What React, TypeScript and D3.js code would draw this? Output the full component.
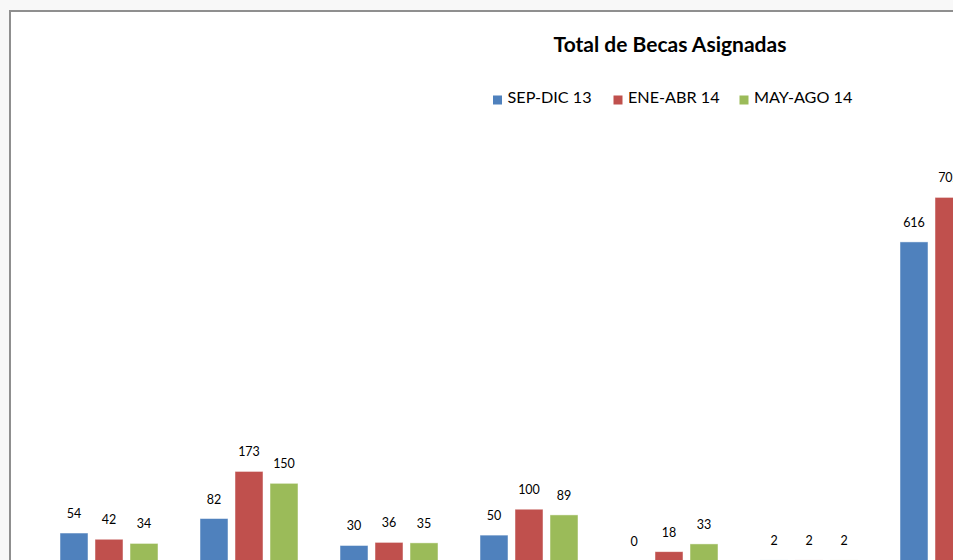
import React from "react";
import * as d3 from "d3";

const categories = ["G1", "G2", "G3", "G4", "G5", "G6", "G7"];
const seriesNames = ["SEP-DIC 13", "ENE-ABR 14", "MAY-AGO 14"];
const sepDic13 = [54, 82, 30, 50, 0, 2, 616];
const eneAbr14 = [42, 173, 36, 100, 18, 2, 702];
const mayAgo14 = [34, 150, 35, 89, 33, 2, 660];
const colors = ["#4F81BD", "#C0504D", "#9BBB59"];
const title = "Total de Becas Asignadas";

const W = 953;
const H = 560;
const FONT = "Lato, 'Noto Sans', sans-serif";

export default function App() {
  const series = [sepDic13, eneAbr14, mayAgo14];
  const x0 = d3
    .scaleBand<string>()
    .domain(categories)
    .range([39, 1019])
    .paddingInner(0.3)
    .paddingOuter(0.15);
  const x1 = d3
    .scaleBand<string>()
    .domain(seriesNames)
    .range([0, x0.bandwidth()])
    .paddingInner(0.2)
    .paddingOuter(0);
  const y = d3.scaleLinear().domain([0, 800]).range([561, 146.6]);

  const legendX = [493, 613.5, 739.5];

  return (
    <svg
      width={W}
      height={H}
      style={{ position: "absolute", left: 0, top: 0, display: "block" }}
      fontFamily={FONT}
    >
      <rect x={0} y={0} width={W} height={H} fill="#f8f8f8" />
      <rect x={10} y={11} width={3000} height={3000} fill="#ffffff" stroke="#8f8f8f" strokeWidth={2} />
      <text x={670} y={51.5} textAnchor="middle" fontSize={21} fontWeight="bold" fill="#000">
        {title}
      </text>
      {seriesNames.map((s, i) => (
        <g key={s}>
          <rect x={legendX[i]} y={95.5} width={9} height={9} fill={colors[i]} />
          <text x={legendX[i] + 14.5} y={103.2} fontSize={16.2} fill="#000">
            {s}
          </text>
        </g>
      ))}
      {categories.map((c, ci) => (
        <g key={c} transform={`translate(${x0(c)},0)`}>
          {seriesNames.map((s, si) => {
            const v = series[si][ci];
            const bx = x1(s)!;
            return (
              <g key={s}>
                <rect
                  x={bx}
                  y={y(v)}
                  width={x1.bandwidth()}
                  height={y(0) - y(v)}
                  fill={colors[si]}
                  stroke="#ffffff"
                  strokeOpacity={0.6}
                  strokeWidth={0.8}
                />
                <text
                  x={bx + x1.bandwidth() / 2}
                  y={y(v) - 15}
                  textAnchor="middle"
                  fontSize={12.5}
                  fill="#000"
                >
                  {v}
                </text>
              </g>
            );
          })}
        </g>
      ))}
    </svg>
  );
}
